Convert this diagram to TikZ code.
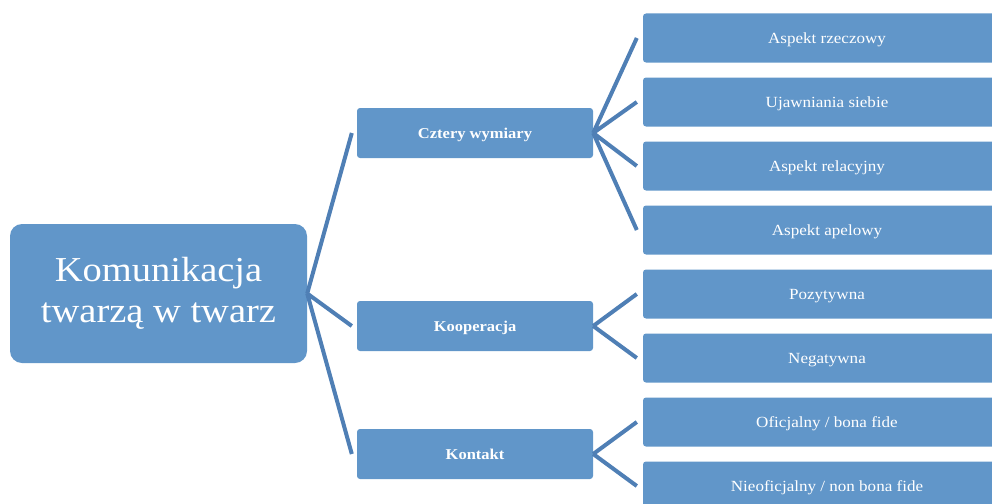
\documentclass[tikz,border=0pt]{standalone}
\usepackage{fontspec}
\setmainfont[FakeStretch=1.1]{Liberation Serif}
\definecolor{boxblue}{RGB}{97,150,201}
\definecolor{spokeblue}{RGB}{79,127,181}
\tikzset{
  box/.style={fill=boxblue, text=white, rounded corners=3pt, inner sep=0pt, align=center},
  rootbox/.style={box, rounded corners=12pt, minimum width=297pt, minimum height=139pt,
    font=\fontsize{35}{41}\selectfont},
  mid/.style={box, minimum width=236pt, minimum height=50pt, text depth=0pt, font=\fontsize{15}{17}\selectfont\bfseries},
  leaf/.style={box, minimum width=368pt, minimum height=49pt, text depth=0pt, font=\fontsize{15.5}{17}\selectfont},
  spoke/.style={draw=spokeblue, line width=4pt}
}
\begin{document}
\begin{tikzpicture}[x=1pt,y=-1pt]
    \useasboundingbox (0,0) rectangle (992,503);
    \clip (0,0) rectangle (992,503);
    %root
    \node[rootbox] (kom) at (158.5,293.5) {Komunikacja\\twarzą w twarz};
    %second level
    \node[mid] (cz) at (475,133) {Cztery wymiary};
    \node[mid] (ko) at (475,326) {Kooperacja};
    \node[mid] (kt) at (475,454) {Kontakt};
    %leaves
    \node[leaf] (rze) at (827,38) {Aspekt rzeczowy};
    \node[leaf] (uja) at (827,102) {Ujawniania siebie};
    \node[leaf] (rel) at (827,166) {Aspekt relacyjny};
    \node[leaf] (ape) at (827,230) {Aspekt apelowy};
    \node[leaf] (poz) at (827,294) {Pozytywna};
    \node[leaf] (neg) at (827,358) {Negatywna};
    \node[leaf] (ofi) at (827,422) {Oficjalny / bona fide};
    \node[leaf] (nie) at (827,486) {Nieoficjalny / non bona fide};
    %spokes
    \draw[spoke] (kom.east) -- ([xshift=-5pt]cz.west)
        (kom.east) -- ([xshift=-5pt]ko.west)
        (kom.east) -- ([xshift=-5pt]kt.west);
    \draw[spoke] (cz.east) -- ([xshift=-6pt]rze.west)
        (cz.east) -- ([xshift=-6pt]uja.west)
        (cz.east) -- ([xshift=-6pt]rel.west)
        (cz.east) -- ([xshift=-6pt]ape.west);
    \draw[spoke] (ko.east) -- ([xshift=-6pt]poz.west)
        (ko.east) -- ([xshift=-6pt]neg.west);
    \draw[spoke] (kt.east) -- ([xshift=-6pt]ofi.west)
        (kt.east) -- ([xshift=-6pt]nie.west);
\end{tikzpicture}
\end{document}
